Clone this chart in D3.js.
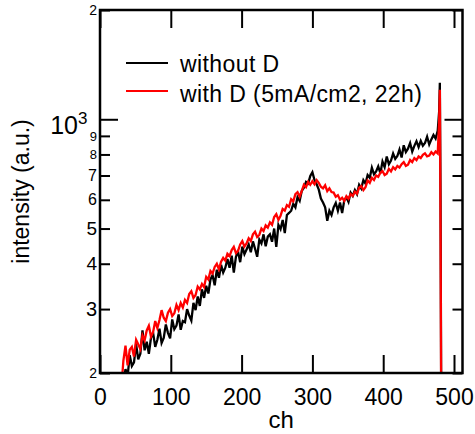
<!DOCTYPE html>
<html>
<head>
<meta charset="utf-8">
<script src="https://cdn.jsdelivr.net/npm/d3@7"></script>
<style>
  body { margin: 0; background: #fff; }
  text { font-family: "Liberation Sans", Arial, sans-serif; fill: #000; }
</style>
</head>
<body>
<div id="chart"></div>
<script>
// channels (x values), step 3 plus the edge points
const channels = d3.range(30, 478, 3).concat([479, 480, 481, 482]);

const withoutD = [
  172, 188, 205, 196, 224, 209, 214, 240, 218, 226,
  262, 231, 244, 226, 250, 258, 236, 247, 265, 242,
  250, 272, 258, 249, 281, 264, 270, 290, 263, 278,
  276, 300, 288, 279, 312, 298, 325, 306, 340, 322,
  348, 331, 362, 372, 349, 385, 366, 397, 378, 390,
  412, 390, 421, 378, 418, 432, 404, 446, 425, 438,
  452, 430, 461, 440, 418, 466, 455, 482, 447, 475,
  482, 460, 500, 445, 512, 498, 528, 486, 545, 552,
  560, 585, 572, 610, 596, 635, 648, 672, 665, 698,
  715, 680, 662, 640, 605, 590, 572, 525, 560, 545,
  572, 588, 560, 590, 552, 598, 610, 592, 628, 615,
  638, 622, 660, 645, 680, 665, 702, 690, 735, 705,
  718, 742, 710, 765, 738, 790, 752, 770, 805, 778,
  792, 825, 785, 848, 812, 830, 860, 815, 845, 870,
  838, 872, 845, 860, 895, 852, 880, 905, 885, 930,
  1050, 1260, 600, 150
];

const withD = [
  180, 216, 238, 210, 232, 236, 222, 247, 240, 233,
  254, 246, 262, 270, 252, 259, 278, 266, 280, 298,
  284, 278, 293, 300, 287, 292, 308, 298, 312, 303,
  318, 312, 330, 336, 322, 328, 346, 340, 352, 345,
  368, 362, 382, 376, 392, 400, 386, 405, 415, 408,
  426, 420, 436, 445, 428, 434, 452, 462, 446, 455,
  470, 462, 482, 490, 474, 480, 500, 492, 510, 503,
  520, 512, 538, 548, 528, 542, 566, 560, 580, 574,
  602, 594, 622, 630, 612, 635, 660, 650, 672, 660,
  675, 662, 680, 668, 652, 645, 658, 634, 645, 630,
  628, 612, 618, 600, 608, 596, 614, 604, 622, 615,
  632, 624, 648, 655, 638, 650, 678, 668, 690, 680,
  700, 694, 712, 720, 702, 708, 730, 718, 738, 728,
  744, 736, 752, 762, 744, 750, 772, 762, 782, 772,
  790, 782, 798, 806, 790, 794, 812, 800, 815, 805,
  990, 1205, 500, 150
];

const xTicks = [0, 100, 200, 300, 400, 500];
const yMinorTicks = [200, 300, 400, 500, 600, 700, 800, 900, 2000];
const yMinorLabels = {200: "2", 300: "3", 400: "4", 500: "5", 600: "6", 700: "7", 800: "8", 900: "9", 2000: "2"};
const yLabelSize = {200: 14, 300: 20, 400: 19, 500: 19, 600: 16, 700: 16, 800: 13, 900: 13, 2000: 14};
const seriesNames = ["without D", "with D (5mA/cm2, 22h)"];
const seriesColors = ["#000000", "#ff0000"];

// set the dimensions and margins of the graph
const margin = {top: 10, right: 12.5, bottom: 61, left: 100};
const width = 475 - margin.left - margin.right;
const height = 434 - margin.top - margin.bottom;

const svg = d3.select("#chart")
  .append("svg")
    .attr("width", 475)
    .attr("height", 434)
  .append("g")
    .attr("transform", `translate(${margin.left}, ${margin.top})`);

const x = d3.scaleLinear().domain([0, 512]).range([0, width]);
const y = d3.scaleLog().domain([200, 2000]).range([height, 0]);

svg.append("clipPath")
    .attr("id", "clip")
  .append("rect")
    .attr("width", width)
    .attr("height", height);

// data lines
const line = d3.line()
  .x((d, i) => x(channels[i]))
  .y(d => y(d));

[withoutD, withD].forEach((s, k) => {
  svg.append("path")
    .datum(s)
    .attr("clip-path", "url(#clip)")
    .attr("fill", "none")
    .attr("stroke", seriesColors[k])
    .attr("stroke-width", 2.3)
    .attr("d", line);
});

// bottom axis
svg.append("g")
  .attr("transform", `translate(0, ${height})`)
  .call(d3.axisBottom(x).tickValues(xTicks).tickSize(-18).tickPadding(16))
  .call(g => g.select(".domain").remove())
  .call(g => g.selectAll("line").attr("stroke-width", 2))
  .call(g => g.selectAll("text").style("font-size", "23px").attr("fill", "#000"));

// top axis
svg.append("g")
  .call(d3.axisTop(x).tickValues(xTicks).tickSize(-18).tickFormat(""))
  .call(g => g.select(".domain").remove())
  .call(g => g.selectAll("line").attr("stroke-width", 2));

// left axis, minor ticks with labels
svg.append("g")
  .call(d3.axisLeft(y).tickValues(yMinorTicks).tickSize(-10).tickPadding(3)
    .tickFormat(d => yMinorLabels[d]))
  .call(g => g.select(".domain").remove())
  .call(g => g.selectAll("line").attr("stroke-width", 2))
  .call(g => g.selectAll("text").attr("fill", "#000").style("font-size", d => yLabelSize[d] + "px"));

// left axis, major tick
svg.append("g")
  .call(d3.axisLeft(y).tickValues([1000]).tickSize(-18).tickFormat(""))
  .call(g => g.select(".domain").remove())
  .call(g => g.selectAll("line").attr("stroke-width", 2));

// right axis
svg.append("g")
  .attr("transform", `translate(${width}, 0)`)
  .call(d3.axisRight(y).tickValues(yMinorTicks).tickSize(-10).tickFormat(""))
  .call(g => g.select(".domain").remove())
  .call(g => g.selectAll("line").attr("stroke-width", 2));

svg.append("g")
  .attr("transform", `translate(${width}, 0)`)
  .call(d3.axisRight(y).tickValues([1000]).tickSize(-18).tickFormat(""))
  .call(g => g.select(".domain").remove())
  .call(g => g.selectAll("line").attr("stroke-width", 2));

// 10^3 label
svg.append("text")
  .attr("x", -22)
  .attr("y", y(1000) + 15)
  .attr("text-anchor", "end")
  .style("font-size", "25px")
  .text("10");
svg.append("text")
  .attr("x", -22)
  .attr("y", y(1000) + 5)
  .attr("text-anchor", "start")
  .style("font-size", "17px")
  .text("3");

// frame
svg.append("rect")
  .attr("width", width)
  .attr("height", height)
  .attr("fill", "none")
  .attr("stroke", "#000")
  .attr("stroke-width", 2.5);

// legend
seriesNames.forEach((name, k) => {
  svg.append("line")
    .attr("x1", 26).attr("x2", 68)
    .attr("y1", 53 + k * 28).attr("y2", 53 + k * 28)
    .attr("stroke", seriesColors[k])
    .attr("stroke-width", 2);
  svg.append("text")
    .attr("x", 80)
    .attr("y", 62 + k * 30)
    .style("font-size", "23px")
    .style("letter-spacing", "0.4px")
    .text(name);
});

// axis titles
svg.append("text")
  .attr("x", width / 2)
  .attr("y", height + 55)
  .attr("text-anchor", "middle")
  .style("font-size", "24px")
  .text("ch");

svg.append("text")
  .attr("transform", `translate(${29 - margin.left}, ${height / 2}) rotate(-90)`)
  .attr("text-anchor", "middle")
  .style("font-size", "23px")
  .text("intensity (a.u.)");
</script>
</body>
</html>
